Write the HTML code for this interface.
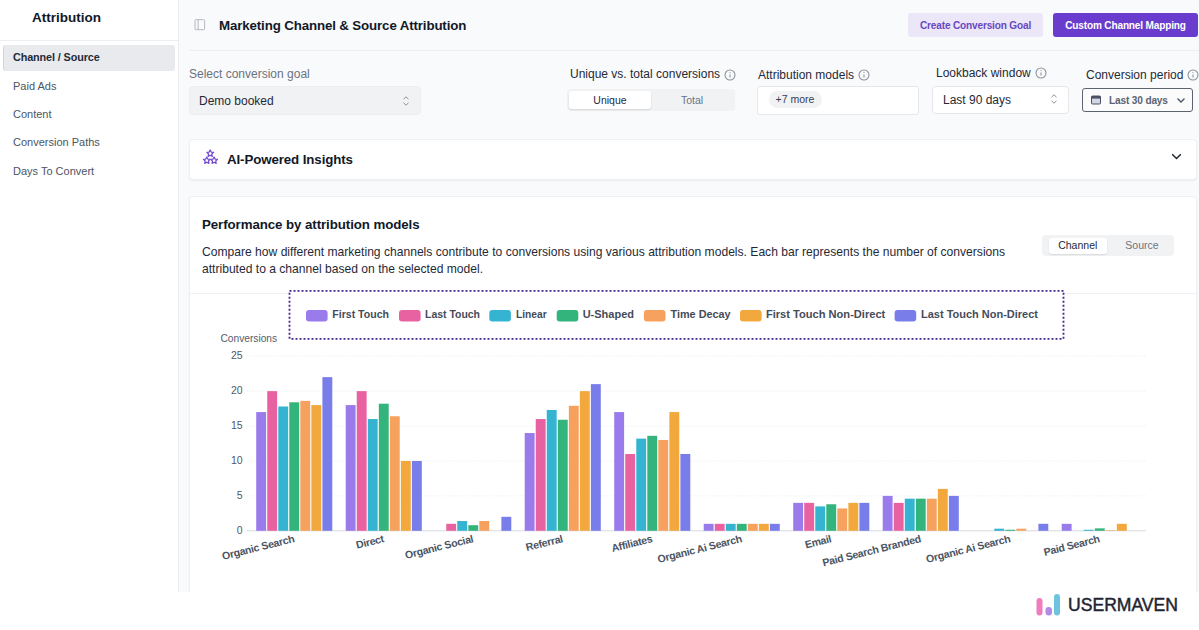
<!DOCTYPE html>
<html>
<head>
<meta charset="utf-8">
<style>
*{box-sizing:border-box;margin:0;padding:0}
html,body{width:1199px;height:630px;overflow:hidden;background:#fff;font-family:"Liberation Sans",sans-serif;color:#1f2937}
.abs{position:absolute}
#side{position:absolute;left:0;top:0;width:179px;height:592px;background:#fff;border-right:1px solid #e9ebee}
#side .ttl{position:absolute;left:0;top:9.6px;width:133px;text-align:center;font-weight:700;font-size:13.5px;color:#111827;line-height:16px}
#side .hr{position:absolute;left:0;top:40px;width:178px;height:1px;background:#eceef1}
.nav{position:absolute;left:13px;font-size:11px;color:#4b5563;line-height:14px;white-space:nowrap}
#act{position:absolute;left:3px;top:45px;width:172px;height:26px;background:#e9eaee;border-radius:3px;border-left:1px solid #d2d5da}
#main{position:absolute;left:179px;top:0;width:1020px;height:592px;background:#f9fafb}
.t{position:absolute;white-space:nowrap;line-height:1}
.card{position:absolute;background:#fff;border:1px solid #eff0f3;border-radius:4px;box-shadow:0 1px 2px rgba(0,0,0,.05)}
</style>
</head>
<body>
<div id="side">
  <div class="ttl">Attribution</div>
  <div class="hr"></div>
  <div id="act"></div>
  <div class="nav" style="top:50.4px;color:#222a37;font-weight:700;font-size:10.8px;letter-spacing:-.1px">Channel / Source</div>
  <div class="nav" style="top:79px">Paid Ads</div>
  <div class="nav" style="top:107px">Content</div>
  <div class="nav" style="top:135px">Conversion Paths</div>
  <div class="nav" style="top:163.5px">Days To Convert</div>
</div>
<div id="main"></div>

<!-- header -->
<svg class="abs" style="left:194px;top:19px" width="12" height="12" viewBox="0 0 12 12" fill="none" stroke="#b4b8be" stroke-width="1"><rect x="1" y="0.7" width="9.6" height="10" rx="0.8"/><line x1="4.1" y1="0.7" x2="4.1" y2="10.7"/></svg>
<div class="t" id="h1" style="left:219px;top:18.5px;font-size:13.3px;letter-spacing:-.13px;font-weight:700;color:#111827">Marketing Channel &amp; Source Attribution</div>
<div class="abs" style="left:189px;top:50px;width:1010px;height:1px;background:#eceef1"></div>
<div class="abs" style="left:908px;top:13px;width:135px;height:24px;background:#ebe7f8;border-radius:3px"></div>
<div class="t" id="b1" style="left:908px;top:20.5px;width:135px;text-align:center;font-size:10.1px;letter-spacing:-.18px;font-weight:700;color:#6847c0">Create Conversion Goal</div>
<div class="abs" style="left:1053px;top:13px;width:145px;height:24px;background:#6a3ccd;border-radius:3px"></div>
<div class="t" id="b2" style="left:1053px;top:20.5px;width:145px;text-align:center;font-size:10.1px;letter-spacing:-.18px;font-weight:700;color:#fff">Custom Channel Mapping</div>

<!-- filters -->
<div class="t" id="l1" style="left:189px;top:68px;font-size:12px;color:#6b7280">Select conversion goal</div>
<div class="abs" style="left:189px;top:86px;width:232px;height:29px;background:#f1f2f4;border:1px solid #eceef0;border-radius:4px"></div>
<div class="t" id="v1" style="left:199px;top:95px;font-size:12px;color:#1f2937">Demo booked</div>
<svg class="abs" style="left:402px;top:95px" width="8" height="12" viewBox="0 0 8 12" fill="none" stroke="#8b9099" stroke-width="1"><path d="M1.5 4.2 L4 1.8 L6.5 4.2 M1.5 7.8 L4 10.2 L6.5 7.8"/></svg>

<div class="t" id="l2" style="left:570px;top:68px;font-size:12px;color:#1f2937">Unique vs. total conversions</div>
<svg class="abs info" style="left:723.5px;top:68.5px" width="12" height="12" viewBox="0 0 12 12" fill="none" stroke="#8b9099" stroke-width="1.05"><circle cx="6" cy="6" r="5"/><line x1="6" y1="5.4" x2="6" y2="8.6"/><circle cx="6" cy="3.6" r=".6" fill="#8b9099" stroke="none"/></svg>
<div class="abs" style="left:567px;top:89px;width:168px;height:22px;background:#f1f2f4;border-radius:4px"></div>
<div class="abs" style="left:569px;top:91px;width:82px;height:18px;background:#fff;border-radius:3px;box-shadow:0 1px 2px rgba(0,0,0,.12)"></div>
<div class="t" id="u1" style="left:569px;top:95px;width:82px;text-align:center;font-size:10.5px;color:#1f2937">Unique</div>
<div class="t" id="u2" style="left:651px;top:95px;width:82px;text-align:center;font-size:10.5px;color:#6b7280">Total</div>

<div class="t" id="l3" style="left:758px;top:69px;font-size:12px;color:#1f2937">Attribution models</div>
<svg class="abs info" style="left:858px;top:68.5px" width="12" height="12" viewBox="0 0 12 12" fill="none" stroke="#8b9099" stroke-width="1.05"><circle cx="6" cy="6" r="5"/><line x1="6" y1="5.4" x2="6" y2="8.6"/><circle cx="6" cy="3.6" r=".6" fill="#8b9099" stroke="none"/></svg>
<div class="abs" style="left:757px;top:85.5px;width:162px;height:29.5px;background:#fff;border:1px solid #e5e7eb;border-radius:3px"></div>
<div class="abs" style="left:768.5px;top:91px;width:53px;height:17px;background:#f1f2f4;border-radius:8.5px"></div>
<div class="t" id="m1" style="left:768.5px;top:93.8px;width:53px;text-align:center;font-size:10.5px;color:#374151">+7 more</div>

<div class="t" id="l4" style="left:936px;top:67px;font-size:12px;color:#1f2937">Lookback window</div>
<svg class="abs info" style="left:1035px;top:67px" width="12" height="12" viewBox="0 0 12 12" fill="none" stroke="#8b9099" stroke-width="1.05"><circle cx="6" cy="6" r="5"/><line x1="6" y1="5.4" x2="6" y2="8.6"/><circle cx="6" cy="3.6" r=".6" fill="#8b9099" stroke="none"/></svg>
<div class="abs" style="left:932px;top:85.5px;width:137px;height:28px;background:#fff;border:1px solid #e5e7eb;border-radius:4px"></div>
<div class="t" id="v4" style="left:943px;top:93.5px;font-size:12px;color:#1f2937">Last 90 days</div>
<svg class="abs" style="left:1050px;top:93px" width="8" height="12" viewBox="0 0 8 12" fill="none" stroke="#8b9099" stroke-width="1"><path d="M1.5 4.2 L4 1.8 L6.5 4.2 M1.5 7.8 L4 10.2 L6.5 7.8"/></svg>

<div class="t" id="l5" style="left:1086px;top:69px;font-size:12px;color:#1f2937">Conversion period</div>
<svg class="abs info" style="left:1186.6px;top:68.5px" width="12" height="12" viewBox="0 0 12 12" fill="none" stroke="#8b9099" stroke-width="1.05"><circle cx="6" cy="6" r="5"/><line x1="6" y1="5.4" x2="6" y2="8.6"/><circle cx="6" cy="3.6" r=".6" fill="#8b9099" stroke="none"/></svg>
<div class="abs" style="left:1082px;top:88px;width:111px;height:23.5px;background:#fbfbfc;border:1px solid #5b6270;border-radius:3px"></div>
<svg class="abs" style="left:1091px;top:95px" width="10" height="10" viewBox="0 0 10 10"><rect x="0.5" y="1" width="9" height="8" rx="1" fill="#d4d6e4" stroke="#4b5066" stroke-width="1"/><rect x="0.5" y="1" width="9" height="2.6" fill="#4b5066"/></svg>
<div class="t" id="v5" style="left:1109px;top:95.6px;font-size:10.1px;letter-spacing:-.15px;font-weight:700;color:#5b6270">Last 30 days</div>
<svg class="abs" style="left:1176px;top:97px" width="10" height="7" viewBox="0 0 10 7" fill="none" stroke="#4b5563" stroke-width="1.3"><path d="M1.5 1.5 L5 5 L8.5 1.5"/></svg>

<!-- AI card -->
<div class="card" style="left:189px;top:138.6px;width:1008px;height:41px"></div>
<svg class="abs" style="left:202px;top:149px" width="16" height="16" viewBox="0 0 16 16" fill="none" stroke="#7048cc" stroke-width="1.25" stroke-linejoin="round"><path d="M8.20 1.00 L9.23 3.08 L11.53 3.42 L9.86 5.04 L10.26 7.33 L8.20 6.25 L6.14 7.33 L6.54 5.04 L4.87 3.42 L7.17 3.08 Z"/><path d="M4.80 8.00 L5.83 10.08 L8.13 10.42 L6.46 12.04 L6.86 14.33 L4.80 13.25 L2.74 14.33 L3.14 12.04 L1.47 10.42 L3.77 10.08 Z"/><path d="M12.10 8.00 L13.13 10.08 L15.43 10.42 L13.76 12.04 L14.16 14.33 L12.10 13.25 L10.04 14.33 L10.44 12.04 L8.77 10.42 L11.07 10.08 Z"/></svg>
<div class="t" id="ai" style="left:227px;top:152.6px;font-size:13.3px;letter-spacing:-.1px;font-weight:700;color:#111827">AI-Powered Insights</div>
<svg class="abs" style="left:1170px;top:152px" width="13" height="9" viewBox="0 0 13 9" fill="none" stroke="#1c212c" stroke-width="1.45"><path d="M2.2 2.3 L6.5 6.4 L10.8 2.3"/></svg>

<!-- Performance card -->
<div class="card" style="left:189px;top:196px;width:1008px;height:410px;border-bottom:none;border-radius:4px 4px 0 0"></div>
<div class="abs" style="left:0;top:592px;width:1199px;height:38px;background:#fff"></div>
<div class="t" id="pt" style="left:202px;top:217.7px;font-size:13.3px;letter-spacing:-.08px;font-weight:700;color:#111827">Performance by attribution models</div>
<div class="t" id="d1" style="left:202px;top:246px;font-size:12.1px;color:#1f2937">Compare how different marketing channels contribute to conversions using various attribution models. Each bar represents the number of conversions</div>
<div class="t" id="d2" style="left:202px;top:263px;font-size:12.1px;color:#1f2937">attributed to a channel based on the selected model.</div>
<div class="abs" style="left:1042px;top:235px;width:132px;height:21px;background:#f1f2f4;border-radius:4px"></div>
<div class="abs" style="left:1048.5px;top:237.5px;width:58.5px;height:16px;background:#fff;border-radius:3px;box-shadow:0 1px 1.5px rgba(0,0,0,.10)"></div>
<div class="t" id="c1" style="left:1048.5px;top:240px;width:58.5px;text-align:center;font-size:10.5px;color:#1f2937">Channel</div>
<div class="t" id="c2" style="left:1112px;top:240px;width:60px;text-align:center;font-size:10.5px;color:#6b7280">Source</div>
<div class="abs" style="left:190px;top:293px;width:1006px;height:1px;background:#eff0f2"></div>

<!-- CHART -->
<svg class="abs" id="chart" style="left:0;top:0" width="1199" height="630" viewBox="0 0 1199 630" font-family="Liberation Sans, sans-serif">
<line x1="247" x2="1146" y1="495.9" y2="495.9" stroke="#f0f1f3" stroke-width="1" stroke-dasharray="1.5 1.5"/>
<line x1="247" x2="1146" y1="461.0" y2="461.0" stroke="#f0f1f3" stroke-width="1" stroke-dasharray="1.5 1.5"/>
<line x1="247" x2="1146" y1="426.0" y2="426.0" stroke="#f0f1f3" stroke-width="1" stroke-dasharray="1.5 1.5"/>
<line x1="247" x2="1146" y1="391.1" y2="391.1" stroke="#f0f1f3" stroke-width="1" stroke-dasharray="1.5 1.5"/>
<line x1="247" x2="1146" y1="356.2" y2="356.2" stroke="#f0f1f3" stroke-width="1" stroke-dasharray="1.5 1.5"/>
<line x1="247" x2="1146" y1="530.8" y2="530.8" stroke="#d6d9de" stroke-width="1"/>
<text x="242.6" y="533.9" text-anchor="end" font-size="10.5" fill="#525966">0</text>
<text x="242.6" y="499.0" text-anchor="end" font-size="10.5" fill="#525966">5</text>
<text x="242.6" y="464.1" text-anchor="end" font-size="10.5" fill="#525966">10</text>
<text x="242.6" y="429.1" text-anchor="end" font-size="10.5" fill="#525966">15</text>
<text x="242.6" y="394.2" text-anchor="end" font-size="10.5" fill="#525966">20</text>
<text x="242.6" y="359.3" text-anchor="end" font-size="10.5" fill="#525966">25</text>
<text x="220.5" y="342" font-size="10.2" fill="#555c68">Conversions</text>
<rect x="256.21" y="412.07" width="9.9" height="118.73" fill="#9a7bec"/>
<rect x="267.24" y="391.12" width="9.9" height="139.68" fill="#e862a2"/>
<rect x="278.27" y="406.48" width="9.9" height="124.32" fill="#35b4d2"/>
<rect x="289.30" y="402.29" width="9.9" height="128.51" fill="#32b47c"/>
<rect x="300.33" y="400.90" width="9.9" height="129.90" fill="#f7a15e"/>
<rect x="311.36" y="405.09" width="9.9" height="125.71" fill="#f2a83c"/>
<rect x="322.39" y="377.15" width="9.9" height="153.65" fill="#797de9"/>
<text class="xl" transform="translate(294.9,542) rotate(-14)" text-anchor="end" letter-spacing="-0.3" font-size="10.6" font-weight="700" fill="#4b5563">Organic Search</text>
<rect x="345.71" y="405.09" width="9.9" height="125.71" fill="#9a7bec"/>
<rect x="356.74" y="391.12" width="9.9" height="139.68" fill="#e862a2"/>
<rect x="367.77" y="419.06" width="9.9" height="111.74" fill="#35b4d2"/>
<rect x="378.80" y="403.69" width="9.9" height="127.11" fill="#32b47c"/>
<rect x="389.83" y="416.26" width="9.9" height="114.54" fill="#f7a15e"/>
<rect x="400.86" y="460.96" width="9.9" height="69.84" fill="#f2a83c"/>
<rect x="411.89" y="460.96" width="9.9" height="69.84" fill="#797de9"/>
<text class="xl" transform="translate(384.4,542) rotate(-14)" text-anchor="end" letter-spacing="-0.3" font-size="10.6" font-weight="700" fill="#4b5563">Direct</text>
<rect x="446.24" y="523.82" width="9.9" height="6.98" fill="#e862a2"/>
<rect x="457.27" y="521.02" width="9.9" height="9.78" fill="#35b4d2"/>
<rect x="468.30" y="525.21" width="9.9" height="5.59" fill="#32b47c"/>
<rect x="479.33" y="521.02" width="9.9" height="9.78" fill="#f7a15e"/>
<rect x="501.39" y="516.83" width="9.9" height="13.97" fill="#797de9"/>
<text class="xl" transform="translate(473.9,542) rotate(-14)" text-anchor="end" letter-spacing="-0.3" font-size="10.6" font-weight="700" fill="#4b5563">Organic Social</text>
<rect x="524.71" y="433.02" width="9.9" height="97.78" fill="#9a7bec"/>
<rect x="535.74" y="419.06" width="9.9" height="111.74" fill="#e862a2"/>
<rect x="546.77" y="409.98" width="9.9" height="120.82" fill="#35b4d2"/>
<rect x="557.80" y="419.75" width="9.9" height="111.05" fill="#32b47c"/>
<rect x="568.83" y="405.79" width="9.9" height="125.01" fill="#f7a15e"/>
<rect x="579.86" y="391.12" width="9.9" height="139.68" fill="#f2a83c"/>
<rect x="590.89" y="384.14" width="9.9" height="146.66" fill="#797de9"/>
<text class="xl" transform="translate(563.4,542) rotate(-14)" text-anchor="end" letter-spacing="-0.3" font-size="10.6" font-weight="700" fill="#4b5563">Referral</text>
<rect x="614.21" y="412.07" width="9.9" height="118.73" fill="#9a7bec"/>
<rect x="625.24" y="453.98" width="9.9" height="76.82" fill="#e862a2"/>
<rect x="636.27" y="438.61" width="9.9" height="92.19" fill="#35b4d2"/>
<rect x="647.30" y="435.82" width="9.9" height="94.98" fill="#32b47c"/>
<rect x="658.33" y="440.01" width="9.9" height="90.79" fill="#f7a15e"/>
<rect x="669.36" y="412.07" width="9.9" height="118.73" fill="#f2a83c"/>
<rect x="680.39" y="453.98" width="9.9" height="76.82" fill="#797de9"/>
<text class="xl" transform="translate(652.9,542) rotate(-14)" text-anchor="end" letter-spacing="-0.3" font-size="10.6" font-weight="700" fill="#4b5563">Affiliates</text>
<rect x="703.71" y="523.82" width="9.9" height="6.98" fill="#9a7bec"/>
<rect x="714.74" y="523.82" width="9.9" height="6.98" fill="#e862a2"/>
<rect x="725.77" y="523.82" width="9.9" height="6.98" fill="#35b4d2"/>
<rect x="736.80" y="523.82" width="9.9" height="6.98" fill="#32b47c"/>
<rect x="747.83" y="523.82" width="9.9" height="6.98" fill="#f7a15e"/>
<rect x="758.86" y="523.82" width="9.9" height="6.98" fill="#f2a83c"/>
<rect x="769.89" y="523.82" width="9.9" height="6.98" fill="#797de9"/>
<text class="xl" transform="translate(742.4,542) rotate(-14)" text-anchor="end" letter-spacing="-0.3" font-size="10.6" font-weight="700" fill="#4b5563">Organic Ai Search</text>
<rect x="793.21" y="502.86" width="9.9" height="27.94" fill="#9a7bec"/>
<rect x="804.24" y="502.86" width="9.9" height="27.94" fill="#e862a2"/>
<rect x="815.27" y="506.36" width="9.9" height="24.44" fill="#35b4d2"/>
<rect x="826.30" y="504.26" width="9.9" height="26.54" fill="#32b47c"/>
<rect x="837.33" y="508.45" width="9.9" height="22.35" fill="#f7a15e"/>
<rect x="848.36" y="502.86" width="9.9" height="27.94" fill="#f2a83c"/>
<rect x="859.39" y="502.86" width="9.9" height="27.94" fill="#797de9"/>
<text class="xl" transform="translate(831.9,542) rotate(-14)" text-anchor="end" letter-spacing="-0.3" font-size="10.6" font-weight="700" fill="#4b5563">Email</text>
<rect x="882.71" y="495.88" width="9.9" height="34.92" fill="#9a7bec"/>
<rect x="893.74" y="502.86" width="9.9" height="27.94" fill="#e862a2"/>
<rect x="904.77" y="498.67" width="9.9" height="32.13" fill="#35b4d2"/>
<rect x="915.80" y="498.67" width="9.9" height="32.13" fill="#32b47c"/>
<rect x="926.83" y="498.67" width="9.9" height="32.13" fill="#f7a15e"/>
<rect x="937.86" y="488.90" width="9.9" height="41.90" fill="#f2a83c"/>
<rect x="948.89" y="495.88" width="9.9" height="34.92" fill="#797de9"/>
<text class="xl" transform="translate(921.4,542) rotate(-14)" text-anchor="end" letter-spacing="-0.3" font-size="10.6" font-weight="700" fill="#4b5563">Paid Search Branded</text>
<rect x="994.27" y="528.70" width="9.9" height="2.10" fill="#35b4d2"/>
<rect x="1005.30" y="529.75" width="9.9" height="1.05" fill="#32b47c"/>
<rect x="1016.33" y="528.70" width="9.9" height="2.10" fill="#f7a15e"/>
<rect x="1038.39" y="523.82" width="9.9" height="6.98" fill="#797de9"/>
<text class="xl" transform="translate(1010.9,542) rotate(-14)" text-anchor="end" letter-spacing="-0.3" font-size="10.6" font-weight="700" fill="#4b5563">Organic Ai Search</text>
<rect x="1061.71" y="523.82" width="9.9" height="6.98" fill="#9a7bec"/>
<rect x="1083.77" y="529.75" width="9.9" height="1.05" fill="#35b4d2"/>
<rect x="1094.80" y="528.36" width="9.9" height="2.44" fill="#32b47c"/>
<rect x="1105.83" y="530.24" width="9.9" height="0.56" fill="#f7a15e"/>
<rect x="1116.86" y="523.82" width="9.9" height="6.98" fill="#f2a83c"/>
<text class="xl" transform="translate(1100.3,542) rotate(-14)" text-anchor="end" letter-spacing="-0.3" font-size="10.6" font-weight="700" fill="#4b5563">Paid Search</text>
<rect x="289.5" y="290.8" width="774" height="48" fill="#fff" stroke="#46278a" stroke-width="1.8" stroke-dasharray="2 2"/>
<rect x="306" y="310" width="21.6" height="11.6" rx="3" fill="#9a7bec"/>
<text x="332.3" y="318.3" font-size="10.6" font-weight="700" fill="#454c59" textLength="56.7" lengthAdjust="spacingAndGlyphs">First Touch</text>
<rect x="399" y="310" width="21.6" height="11.6" rx="3" fill="#e862a2"/>
<text x="425" y="318.3" font-size="10.6" font-weight="700" fill="#454c59" textLength="55" lengthAdjust="spacingAndGlyphs">Last Touch</text>
<rect x="489.3" y="310" width="21.6" height="11.6" rx="3" fill="#35b4d2"/>
<text x="516" y="318.3" font-size="10.6" font-weight="700" fill="#454c59" textLength="30.7" lengthAdjust="spacingAndGlyphs">Linear</text>
<rect x="556.7" y="310" width="21.6" height="11.6" rx="3" fill="#32b47c"/>
<text x="582.7" y="318.3" font-size="10.6" font-weight="700" fill="#454c59" textLength="51.3" lengthAdjust="spacingAndGlyphs">U-Shaped</text>
<rect x="643.9" y="310" width="21.6" height="11.6" rx="3" fill="#f7a15e"/>
<text x="670.5" y="318.3" font-size="10.6" font-weight="700" fill="#454c59" textLength="60.1" lengthAdjust="spacingAndGlyphs">Time Decay</text>
<rect x="740" y="310" width="21.6" height="11.6" rx="3" fill="#f2a83c"/>
<text x="765.9" y="318.3" font-size="10.6" font-weight="700" fill="#454c59" textLength="119.4" lengthAdjust="spacingAndGlyphs">First Touch Non-Direct</text>
<rect x="894.6" y="310" width="21.6" height="11.6" rx="3" fill="#797de9"/>
<text x="921" y="318.3" font-size="10.6" font-weight="700" fill="#454c59" textLength="117" lengthAdjust="spacingAndGlyphs">Last Touch Non-Direct</text>
</svg>

<!-- logo -->
<svg class="abs" style="left:1030px;top:590px" width="169" height="40" viewBox="0 0 169 40" font-family="Liberation Sans, sans-serif">
<rect x="6.5" y="8" width="6" height="17.5" rx="3" fill="#f07cc0"/>
<rect x="15.5" y="17" width="6.5" height="8.5" rx="3.2" fill="#b38be6"/>
<rect x="24" y="4" width="6" height="21.5" rx="3" fill="#6cc4de"/>
<text id="lg" x="38" y="20.9" font-size="18" fill="#1f2430" stroke="#1f2430" stroke-width="0.45" textLength="110" lengthAdjust="spacingAndGlyphs">USERMAVEN</text>
</svg>
</body>
</html>
